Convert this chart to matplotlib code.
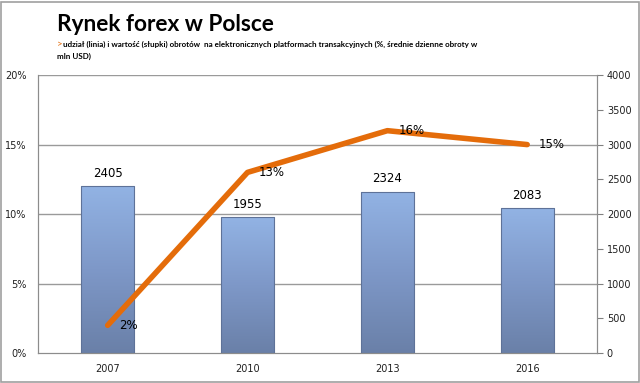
import matplotlib
matplotlib.use("Agg")
import matplotlib.pyplot as plt
import numpy as np
from matplotlib.colors import LinearSegmentedColormap
from matplotlib.patches import Rectangle

years = ["2007", "2010", "2013", "2016"]
turnover = [2405, 1955, 2324, 2083]          # mln USD, bars (right axis)
share = [2, 13, 16, 15]                       # %, line (left axis)
share_labels = ["2%", "13%", "16%", "15%"]
left_ticks = [0, 5, 10, 15, 20]
left_tick_labels = ["0%", "5%", "10%", "15%", "20%"]
right_ticks = [0, 500, 1000, 1500, 2000, 2500, 3000, 3500, 4000]

fig = plt.figure(figsize=(6.4, 3.83), dpi=100)
fig.patch.set_facecolor("white")
# outer frame
fig.add_artist(Rectangle((0.002, 0.002), 0.996, 0.994, transform=fig.transFigure,
                         fill=False, edgecolor="#A0A0A0", linewidth=1.2))

ax = fig.add_axes([0.059, 0.078, 0.874, 0.726])
ax2 = ax.twinx()

x = np.arange(len(years))
bw = 0.38
cmap = LinearSegmentedColormap.from_list("bar", ["#6A80A8", "#7E98C8", "#92B3E4"])
grad = np.linspace(0, 1, 256).reshape(-1, 1)
for xi, v in zip(x, turnover):
    r = Rectangle((xi - bw / 2, 0), bw, v, facecolor="none", edgecolor="none")
    ax.add_patch(r)
    im = ax.imshow(grad, extent=(xi - bw / 2, xi + bw / 2, 0, v), origin="lower",
                   cmap=cmap, aspect="auto", zorder=2)
    im.set_clip_path(r)
    ax.add_patch(Rectangle((xi - bw / 2, 0), bw, v, facecolor="none",
                           edgecolor="#5E7298", linewidth=0.8, zorder=3))
    ax.text(xi, v + 90, f"{v}", ha="center", va="bottom", fontsize=8.5, color="black", zorder=4)

ax.set_xlim(-0.5, len(years) - 0.5)
ax.set_ylim(0, 4000)
ax.yaxis.tick_right()
ax.yaxis.set_label_position("right")
ax.set_yticks(right_ticks)
ax.tick_params(axis="y", direction="out", length=4, color="#808080", labelsize=7, labelcolor="#202020", pad=3)
ax.set_xticks(x)
ax.set_xticklabels(years)
ax.tick_params(axis="x", length=0, labelsize=7, labelcolor="#202020", pad=8)

ax2.plot(x, share, color="#E46C0A", linewidth=4, solid_capstyle="round", zorder=5)
for xi, v, lab in zip(x, share, share_labels):
    ax2.text(xi + 0.08, v, lab, ha="left", va="center", fontsize=8.5, color="black", zorder=6)
ax2.set_ylim(0, 20)
ax2.yaxis.tick_left()
ax2.set_yticks(left_ticks)
ax2.set_yticklabels(left_tick_labels)
ax2.tick_params(axis="y", length=0, labelsize=7, labelcolor="#202020", pad=8)

for y in left_ticks[1:]:
    ax.axhline(y * 200, color="#9A9A9A", linewidth=1, zorder=1)

for a in (ax, ax2):
    for s in a.spines.values():
        s.set_color("#8C8C8C")
    a.spines["top"].set_visible(False)

fig.text(0.089, 0.918, "Rynek forex w Polsce", fontsize=16.3, fontweight="bold",
         family="Lato", color="black", va="baseline")
fig.text(0.089, 0.878, ">", fontsize=7, color="#E46C0A", family="Lato", va="baseline")
fig.text(0.099, 0.878, "udział (linia) i wartość (słupki) obrotów  na elektronicznych platformach transakcyjnych (%, średnie dzienne obroty w",
         fontsize=5.8, fontweight="bold", family=["Liberation Sans Narrow", "Lato"], color="black", va="baseline")
fig.text(0.089, 0.846, "mln USD)", fontsize=5.8, fontweight="bold", family=["Liberation Sans Narrow", "Lato"],
         color="black", va="baseline")

fig.savefig("out.png", dpi=100)
